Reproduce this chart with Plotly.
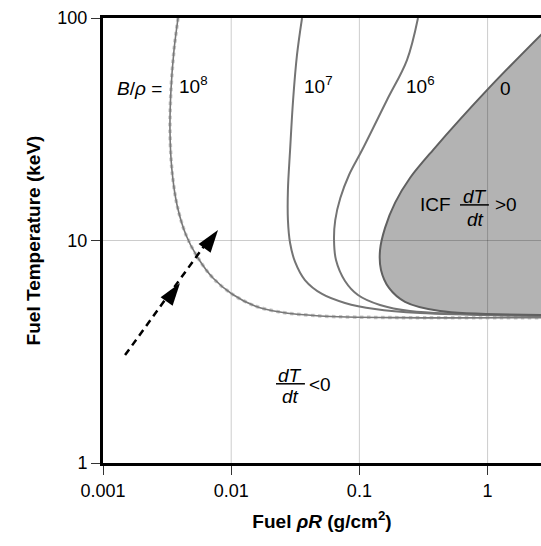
import numpy as np
import plotly.graph_objects as go

# ---- data ----
# Boundary curves dT/dt = 0 for several B/rho values: fuel rhoR (g/cm2) vs T (keV)
rhoR_1e8 = [0.00385, 0.00358, 0.00339, 0.00333, 0.00345, 0.00378, 0.00444, 0.00551,
            0.00721, 0.01014, 0.01534, 0.0240, 0.0493, 0.2074, 2.7]
T_1e8 = [100, 71.8, 47.5, 31.4, 20.7, 14.44, 10.59, 8.34, 6.78, 5.75, 5.08, 4.77, 4.58, 4.50, 4.50]

rhoR_1e7 = [0.0357, 0.0326, 0.0304, 0.0288, 0.0277, 0.0277, 0.0288, 0.0315, 0.0376,
            0.0511, 0.0772, 0.1323, 0.297, 2.7]
T_1e7 = [100, 68.2, 42.8, 25.5, 16.87, 12.36, 9.74, 8.01, 6.64, 5.75, 5.24, 4.92, 4.72, 4.58]

rhoR_1e6 = [0.2865, 0.235, 0.1642, 0.1050, 0.0830, 0.0710, 0.0648, 0.0634, 0.0657,
            0.0772, 0.0975, 0.1448, 0.2482, 2.7]
T_1e6 = [100, 64.7, 42.8, 25.5, 19.7, 15.52, 12.36, 10.05, 8.17, 6.58, 5.69, 5.13, 4.82, 4.58]

rhoR_0 = [2.7, 1.044, 0.375, 0.248, 0.190, 0.1585, 0.1449, 0.1474, 0.1702, 0.2270, 0.4256, 2.7]
T_0 = [85.7, 49.0, 25.5, 19.1, 14.8, 11.4, 9.06, 7.37, 6.12, 5.30, 4.82, 4.63]

# dashed arrow (heating trajectory) and its two arrowhead tips
arrow_rhoR = [0.001486, 0.006471]
arrow_T = [3.055, 9.84]
head_rhoR = [0.00399, 0.00789]
head_T = [6.44, 11.15]

x_tickvals = [0.001, 0.01, 0.1, 1]
x_ticktext = ["0.001", "0.01", "0.1", "1"]
y_tickvals = [1, 10, 100]
y_ticktext = ["1", "10", "100"]

FONT = "Liberation Sans, Arial, sans-serif"

fig = go.Figure()

# ignition region (filled)
fig.add_trace(go.Scatter(x=rhoR_0, y=T_0, mode="lines", fill="toself", line_shape="spline",
                         fillcolor="#b3b3b3", line=dict(color="rgba(0,0,0,0)", width=0, smoothing=0.9),
                         hoverinfo="skip", showlegend=False))

# gridlines drawn above the fill (semi-transparent)
for xv in x_tickvals[1:]:
    fig.add_trace(go.Scatter(x=[xv, xv], y=[y_tickvals[0], y_tickvals[-1]], mode="lines",
                             line=dict(color="rgba(0,0,0,0.2)", width=1),
                             hoverinfo="skip", showlegend=False))
for yv in y_tickvals[1:-1]:
    fig.add_trace(go.Scatter(x=[x_tickvals[0], 3], y=[yv, yv], mode="lines",
                             line=dict(color="rgba(0,0,0,0.2)", width=1),
                             hoverinfo="skip", showlegend=False))

# curves
fig.add_trace(go.Scatter(x=rhoR_1e8, y=T_1e8, mode="lines", line_shape="spline",
                         line=dict(color="#c8c8c8", width=3.5, dash="dot", smoothing=0.9),
                         hoverinfo="skip", showlegend=False))
fig.add_trace(go.Scatter(x=rhoR_1e8, y=T_1e8, mode="lines", line_shape="spline",
                         line=dict(color="#787878", width=1.6, smoothing=0.9),
                         hoverinfo="skip", showlegend=False))
for xs, ys in [(rhoR_1e7, T_1e7), (rhoR_1e6, T_1e6)]:
    fig.add_trace(go.Scatter(x=xs, y=ys, mode="lines", line_shape="spline",
                             line=dict(color="#747474", width=2, smoothing=1.0),
                             hoverinfo="skip", showlegend=False))
fig.add_trace(go.Scatter(x=rhoR_0, y=T_0, mode="lines", line_shape="spline",
                         line=dict(color="#606060", width=2, smoothing=0.9),
                         hoverinfo="skip", showlegend=False))

# dashed arrow shaft + heads
fig.add_trace(go.Scatter(x=arrow_rhoR, y=arrow_T, mode="lines",
                         line=dict(color="black", width=2.5, dash="7px,5px"),
                         hoverinfo="skip", showlegend=False))
fig.add_trace(go.Scatter(x=head_rhoR, y=head_T, mode="markers",
                         marker=dict(symbol="arrow", size=24, color="black", angle=36,
                                     line=dict(width=0)),
                         hoverinfo="skip", showlegend=False))

annotations = []
tf = dict(family=FONT, size=19, color="black")
def txt(lx, ly, s, xanchor="center"):
    annotations.append(dict(x=lx, y=ly, xref="x", yref="y", text=s, showarrow=False,
                            font=tf, xanchor=xanchor, yanchor="middle"))

txt(-2.715, 1.685, "<i>B</i>/<i>ρ</i> =")
txt(-2.420, 1.70, "10<sup>8</sup>", "left")
txt(-1.445, 1.70, "10<sup>7</sup>", "left")
txt(-0.649, 1.70, "10<sup>6</sup>", "left")
txt(0.136, 1.685, "0")

txt(-0.406, 1.160, "ICF")
txt(-0.098, 1.200, "<i>dT</i>")
txt(-0.098, 1.093, "<i>dt</i>")
txt(0.144, 1.164, ">0")

txt(-1.541, 0.395, "<i>dT</i>")
txt(-1.541, 0.297, "<i>dt</i>")
txt(-1.307, 0.351, "<0")

shapes = [
    dict(type="line", xref="paper", yref="paper", x0=0.815, x1=0.881, y0=0.580, y1=0.580,
         line=dict(color="black", width=1.5)),
    dict(type="line", xref="paper", yref="paper", x0=0.395, x1=0.461, y0=0.178, y1=0.178,
         line=dict(color="black", width=1.5)),
]

fig.update_layout(
    width=541, height=546,
    margin=dict(l=103, r=0, t=18, b=83),
    paper_bgcolor="white", plot_bgcolor="white",
    font=dict(family=FONT, size=18, color="black"),
    annotations=annotations, shapes=shapes,
    showlegend=False,
)
fig.update_xaxes(type="log", range=[-3, np.log10(2.61)],
                 tickvals=x_tickvals, ticktext=x_ticktext,
                 showgrid=False, zeroline=False,
                 showline=True, linewidth=3, linecolor="black", mirror=True,
                 ticks="outside", ticklen=9, tickwidth=1, tickcolor="#333",
                 tickfont=dict(family=FONT, size=18, color="black"),
                 title=dict(text="<b>Fuel <i>ρR</i> (g/cm<sup>2</sup>)</b>",
                            font=dict(family=FONT, size=19, color="black"), standoff=16))
fig.update_yaxes(type="log", range=[0, 2],
                 tickvals=y_tickvals, ticktext=y_ticktext,
                 showgrid=False, zeroline=False,
                 showline=True, linewidth=3, linecolor="black",
                 ticks="outside", ticklen=9, tickwidth=1, tickcolor="#333",
                 tickfont=dict(family=FONT, size=18, color="black"),
                 title=dict(text="<b>Fuel Temperature (keV)</b>",
                            font=dict(family=FONT, size=19, color="black"), standoff=12))

fig.write_html("out.html")
